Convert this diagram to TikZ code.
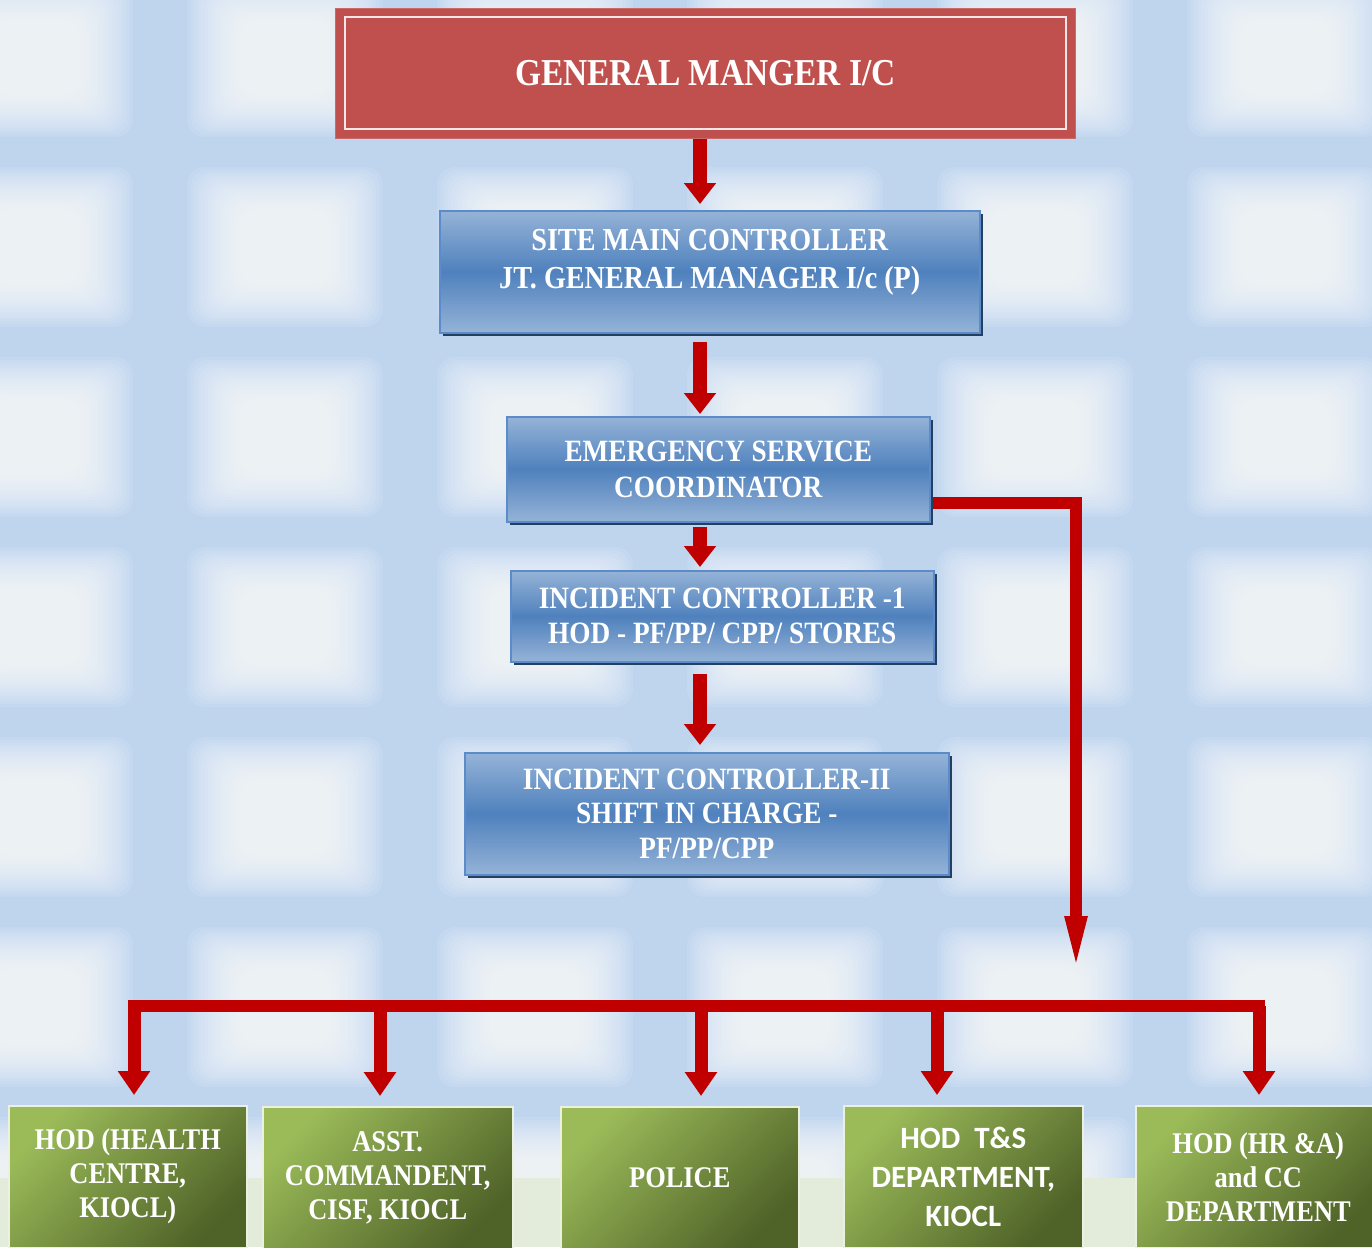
\documentclass[tikz,border=0pt]{standalone}
\usepackage{fontspec}
\setmainfont{Liberation Serif}
\newfontfamily\chartfont[FakeStretch=0.88]{Liberation Serif}
\newfontfamily\calfont{Carlito}
\usetikzlibrary{arrows.meta,shadows}
\definecolor{bgblue}{HTML}{BFD5EE}
\definecolor{groundc}{HTML}{E3EBDA}
\definecolor{gmred}{HTML}{C0504D}
\definecolor{gmline}{HTML}{F2E6E6}
\definecolor{bluelt}{HTML}{95B3D7}
\definecolor{bluemid}{HTML}{4F81BD}
\definecolor{bluedge}{HTML}{5B8BC9}
\definecolor{blueshadow}{HTML}{243F60}
\definecolor{arrowred}{HTML}{C00000}
\definecolor{greenlt}{HTML}{9BBB59}
\definecolor{greendk}{HTML}{4F6228}
\definecolor{greenedge}{HTML}{EBF1DE}
\newcommand\boxtext[2]{\chartfont\bfseries\fontsize{#1}{#2}\selectfont}
\tikzset{gmbox/.style = {%
  fill = gmred,
  draw = gmred!85!white,
  line width = 1pt,
  minimum width = 740pt,
  minimum height = 130pt,
  text = white,
  font = \boxtext{38}{40}
 },
 gminner/.style = {
  draw = gmline,
  line width = 2.5pt
 },
 bluebox/.style = {
  draw = bluedge,
  line width = 1.5pt,
  top color = bluelt,
  bottom color = bluelt,
  middle color = bluemid,
  general shadow = {fill = blueshadow, shadow xshift = 3pt, shadow yshift = -3pt},
  text = white,
  align = center,
  anchor = north west
 },
 greenbox/.style = {
  draw = greenedge,
  line width = 1.5pt,
  top color = greenlt,
  bottom color = greendk,
  shading angle = 45,
  minimum height = 142pt,
  text = white,
  align = center,
  anchor = north west,
  font = \boxtext{30}{34}
 },
 glow/.style = {
  fill = white,
  opacity = 0.09,
  rounded corners = 18pt
 },
 flowarrow/.style = {
  draw = arrowred,
  line width = 14pt,
  -{Triangle[width=31pt,length=21pt]}
 },
 sidearrow/.style = {
  draw = arrowred,
  line width = 12pt,
  -{Triangle[width=19pt,length=62pt]}
 },
 busline/.style = {
  draw = arrowred,
  line width = 12pt,
  line cap = rect
 },
 droparrow/.style = {
  draw = arrowred,
  line width = 13pt,
  shorten > = 10pt,
  -{Triangle[width=31pt,length=24pt]}
 }
}

\begin{document}
\begin{tikzpicture}[x=1pt,y=-1pt]
  \useasboundingbox (0,0) rectangle (1372,1247);
  \clip (0,0) rectangle (1372,1247);

  % backdrop
  \fill[bgblue] (0,0) rectangle (1372,1247);
  \foreach \x in {35,285,535,785,1035,1285}
    \foreach \y in {57,247,437,627,817,1007,1197}
      \foreach \k in {0,...,15}
        \fill[glow] ({\x-98+3.5*\k},{\y-80+2.8*\k}) rectangle ({\x+98-3.5*\k},{\y+80-2.8*\k});
  \fill[groundc] (0,1178) rectangle (1372,1247);

  % chain of command
  \node[gmbox, anchor=north west] (gm) at (335,8) {GENERAL MANGER I/C};
  \draw[gminner] ([shift={(10,9)}]gm.north west) rectangle ([shift={(-10,-10)}]gm.south east);

  \node[bluebox, minimum width=540pt, minimum height=122pt, font=\boxtext{32}{38}] (smc) at (439,210)
    {SITE MAIN CONTROLLER\\JT. GENERAL MANAGER I/c (P)\\[-12pt]};
  \node[bluebox, minimum width=423pt, minimum height=105pt, font=\boxtext{31}{36}] (esc) at (506,416)
    {EMERGENCY SERVICE\\COORDINATOR};
  \node[bluebox, minimum width=423pt, minimum height=91pt, font=\boxtext{31}{35}] (ic1) at (510,570)
    {INCIDENT CONTROLLER -1\\HOD - PF/PP/ CPP/ STORES};
  \node[bluebox, minimum width=484pt, minimum height=122pt, font=\boxtext{31}{34.5}] (ic2) at (464,752)
    {INCIDENT CONTROLLER-II\\SHIFT IN CHARGE -\\PF/PP/CPP};

  \coordinate (spine) at (700,0);
  \draw[flowarrow, shorten >=6pt] (gm.south -| spine) -- (smc.north -| spine);
  \draw[flowarrow, shorten <=8pt, shorten >=2pt] (smc.south -| spine) -- (esc.north -| spine);
  \draw[flowarrow, shorten <=4pt, shorten >=3pt] (esc.south -| spine) -- (ic1.north -| spine);
  \draw[flowarrow, shorten <=11pt, shorten >=7pt] (ic1.south -| spine) -- (ic2.north -| spine);

  % support services
  \node[greenbox, minimum width=238pt] (hc) at (8,1105) {HOD (HEALTH\\CENTRE,\\KIOCL)};
  \node[greenbox, minimum width=250pt] (cisf) at (262,1106) {ASST.\\COMMANDENT,\\CISF, KIOCL};
  \node[greenbox, minimum width=238pt] (pol) at (560,1106) {POLICE};
  \node[greenbox, minimum width=239pt, font=\calfont\bfseries\fontsize{31}{39}\selectfont] (ts) at (843,1105)
    {HOD~ T\&S\\DEPARTMENT,\\KIOCL};
  \node[greenbox, minimum width=245pt] (hr) at (1135,1105) {HOD (HR \&A)\\and CC\\DEPARTMENT};

  \coordinate (escdrop) at (1076,978);
  \draw[sidearrow] (esc.east) ++(2,34) -| (escdrop);

  \foreach \x/\n in {134/hc, 380/cisf, 701/pol, 937/ts, 1259/hr}
    \coordinate (d\n) at (\x,1006);
  \draw[busline] (dhc) -- (dhr);
  \foreach \n in {hc, cisf, pol, ts, hr}
    \draw[droparrow] (d\n) -- (d\n |- \n.north);
\end{tikzpicture}
\end{document}
